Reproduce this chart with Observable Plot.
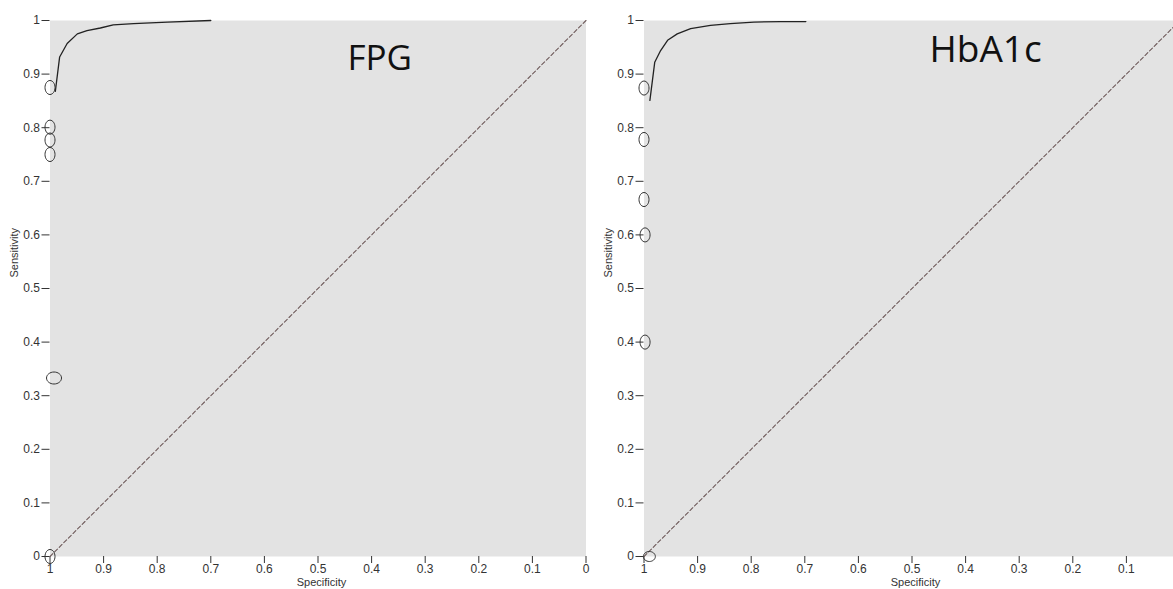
<!DOCTYPE html>
<html>
<head>
<meta charset="utf-8">
<script src="https://cdn.jsdelivr.net/npm/d3@7"></script>
<script src="https://cdn.jsdelivr.net/npm/@observablehq/plot@0.6"></script>
<style>
  html, body { margin: 0; padding: 0; background: #fff; overflow: hidden; width: 1173px; height: 589px; }
  #wrap { position: relative; width: 1173px; height: 589px; overflow: hidden; }
  .panel { position: absolute; top: 0; width: 595px; height: 589px; }
  .panel svg { max-width: none !important; width: 595px; height: 589px; }
</style>
</head>
<body>
<div id="wrap">
  <div class="panel" id="left" style="left:0px"></div>
  <div class="panel" id="right" style="left:594px"></div>
</div>
<script>
// ---- tick values ----
const xTicks = [1, 0.9, 0.8, 0.7, 0.6, 0.5, 0.4, 0.3, 0.2, 0.1, 0];
const yTicks = [0, 0.1, 0.2, 0.3, 0.4, 0.5, 0.6, 0.7, 0.8, 0.9, 1];

// ---- reference diagonal ----
const diagSpec = [1, 0];
const diagSens = [0, 1];

// ---- FPG ROC curve (specificity, sensitivity) ----
const fpgCurveSpec = [0.990, 0.982, 0.968, 0.949, 0.931, 0.906, 0.882, 0.844, 0.781, 0.700];
const fpgCurveSens = [0.868, 0.932, 0.957, 0.975, 0.981, 0.986, 0.992, 0.994, 0.997, 1.000];
// FPG cut-point markers
const fpgMarkSpec = [1, 1, 1, 1, 1];
const fpgMarkSens = [0.875, 0.801, 0.777, 0.750, 0];
const fpgWideSpec = [0.9925];
const fpgWideSens = [0.333];

// ---- HbA1c ROC curve ----
const hbaCurveSpec = [0.989, 0.980, 0.969, 0.956, 0.938, 0.913, 0.876, 0.839, 0.795, 0.745, 0.698];
const hbaCurveSens = [0.851, 0.922, 0.944, 0.963, 0.975, 0.985, 0.991, 0.994, 0.997, 0.998, 0.998];
// HbA1c cut-point markers
const hbaMarkSpec = [1, 1, 1, 0.998, 0.998];
const hbaMarkSens = [0.874, 0.778, 0.666, 0.600, 0.400];
const hbaWideSpec = [0.990];
const hbaWideSens = [0];

const zip = (xs, ys) => xs.map((x, i) => ({spec: x, sens: ys[i]}));

function ellipse(rx, ry) {
  const k = 0.5523;
  return {
    draw(ctx) {
      ctx.moveTo(rx, 0);
      ctx.bezierCurveTo(rx, k * ry, k * rx, ry, 0, ry);
      ctx.bezierCurveTo(-k * rx, ry, -rx, k * ry, -rx, 0);
      ctx.bezierCurveTo(-rx, -k * ry, -k * rx, -ry, 0, -ry);
      ctx.bezierCurveTo(k * rx, -ry, rx, -k * ry, rx, 0);
      ctx.closePath();
    }
  };
}

const tickFmt = d => String(d);

function panel({curve, marks, wide, wideShape, title, titleDx, titleDy, titleSize, ticksX}) {
  return Plot.plot({
    width: 595,
    height: 589,
    marginLeft: 49.5,
    marginRight: 9.5,
    marginTop: 20,
    marginBottom: 33,
    x: {domain: [1, 0]},
    y: {domain: [0, 1]},
    style: {fontFamily: "'Liberation Sans', Arial, sans-serif", fontSize: "12px", color: "#333", background: "transparent", overflow: "visible"},
    marks: [
      Plot.frame({fill: "#e3e3e3", stroke: "none"}),
      Plot.axisX(ticksX, {tickSize: 7, tickPadding: 1, tickFormat: tickFmt, label: null, stroke: "#333", fill: "#333", fontSize: 12}),
      Plot.axisY(yTicks, {tickSize: 8, tickPadding: 2, tickFormat: tickFmt, label: null, stroke: "#333", fill: "#333", fontSize: 12}),
      Plot.line(zip(diagSpec, diagSens), {x: "spec", y: "sens", stroke: "#6e5a5a", strokeWidth: 1.1, strokeDasharray: "4,2.5"}),
      Plot.line(curve, {x: "spec", y: "sens", stroke: "#222", strokeWidth: 1.3}),
      Plot.dot(marks, {x: "spec", y: "sens", symbol: ellipse(5, 7), r: 5, stroke: "#333", strokeWidth: 1, fill: "none"}),
      Plot.dot(wide, {x: "spec", y: "sens", symbol: wideShape, r: 5, stroke: "#333", strokeWidth: 1, fill: "none"}),
      Plot.text([title], {frameAnchor: "top-left", dx: titleDx, dy: titleDy, textAnchor: "start", lineAnchor: "top", fontSize: titleSize, fontFamily: "'Open Sans', 'Noto Sans', sans-serif", fill: "#111", text: d => d}),
      Plot.text(["Specificity"], {frameAnchor: "bottom", dx: 3.5, dy: 29, fontSize: 11, fill: "#333", text: d => d}),
      Plot.text(["Sensitivity"], {frameAnchor: "left", dx: -35.5, dy: -11, rotate: -90, fontSize: 11, fill: "#333", text: d => d})
    ]
  });
}

document.getElementById("left").append(panel({
  curve: zip(fpgCurveSpec, fpgCurveSens),
  marks: zip(fpgMarkSpec, fpgMarkSens),
  wide: zip(fpgWideSpec, fpgWideSens),
  wideShape: ellipse(7.5, 6),
  title: "FPG", titleDx: 297.5, titleDy: 25, titleSize: 35,
  ticksX: xTicks
}));

// the right panel's "0" tick lies beyond the picture's right edge
document.getElementById("right").append(panel({
  curve: zip(hbaCurveSpec, hbaCurveSens),
  marks: zip(hbaMarkSpec, hbaMarkSens),
  wide: zip(hbaWideSpec, hbaWideSens),
  wideShape: ellipse(6, 5),
  title: "HbA1c", titleDx: 285.5, titleDy: 15, titleSize: 37,
  ticksX: xTicks.filter(t => t > 0)
}));
</script>
</body>
</html>
